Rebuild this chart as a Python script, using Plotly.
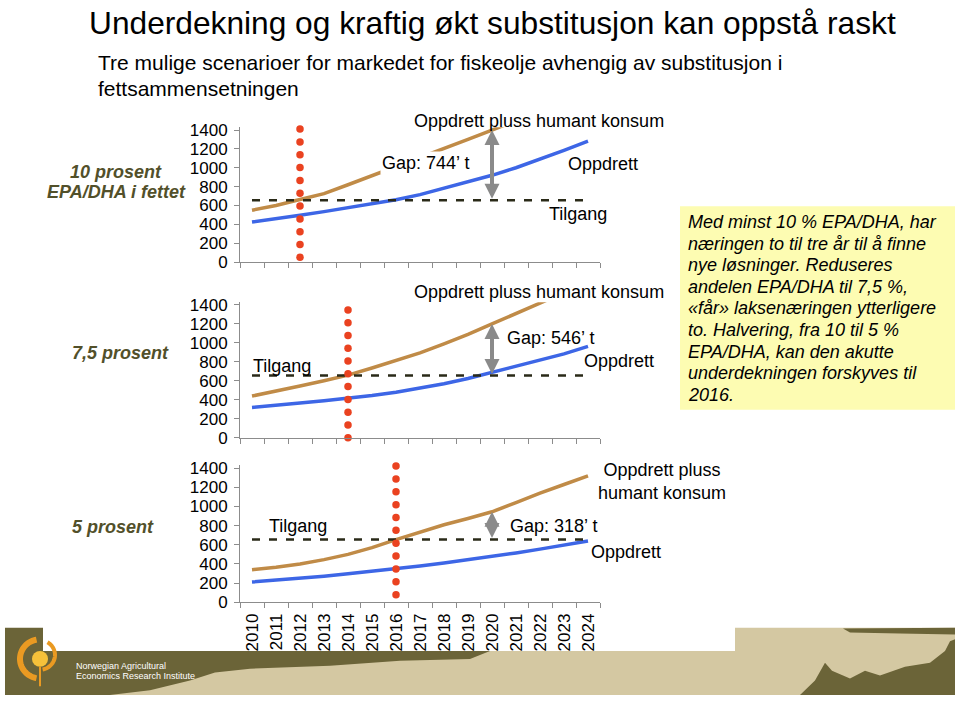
import numpy as np
import plotly.graph_objects as go

W, H = 959, 708
FONT = "Liberation Sans, Arial, sans-serif"

# ---------------- data ----------------
years = list(range(2010, 2025))
year_labels = [str(y) for y in years]
y_ticks = [0, 200, 400, 600, 800, 1000, 1200, 1400]

# 10 % EPA/DHA
oppdrett_10 = [425, 458, 497, 535, 575, 615, 660, 715, 785, 850, 920, 1000, 1090, 1185, 1282]
konsum_10 = [550, 600, 664, 725, 820, 915, 1010, 1105, 1200, 1300, 1400, 1500, 1600, 1700, 1800]
tilgang_10 = 656
cutoff_10 = 2012

# 7,5 %
oppdrett_75 = [320, 340, 365, 390, 415, 445, 480, 523, 570, 625, 690, 750, 815, 885, 964]
konsum_75 = [440, 490, 545, 600, 660, 735, 810, 894, 990, 1090, 1200, 1310, 1420, 1530, 1640]
tilgang_75 = 656
cutoff_75 = 2014

# 5 %
oppdrett_5 = [211, 230, 250, 272, 297, 322, 347, 378, 410, 443, 478, 515, 555, 597, 640]
konsum_5 = [340, 365, 400, 445, 500, 570, 654, 730, 810, 875, 945, 1040, 1140, 1230, 1321]
tilgang_5 = 656
cutoff_5 = 2016

gap_year = 2020
gap_labels = ["Gap: 744’ t", "Gap: 546’ t", "Gap: 318’ t"]
row_labels = [["10 prosent", "EPA/DHA i fettet"], ["7,5 prosent"], ["5 prosent"]]

title = "Underdekning og kraftig økt substitusjon kan oppstå raskt"
subtitle = ["Tre mulige scenarioer for markedet for fiskeolje avhengig av substitusjon i",
            "fettsammensetningen"]
box_lines = ["Med minst 10 % EPA/DHA, har",
             "næringen to til tre år til å finne",
             "nye løsninger. Reduseres",
             "andelen EPA/DHA til 7,5 %,",
             "«får» laksenæringen ytterligere",
             "to. Halvering, fra 10 til 5 %",
             "EPA/DHA, kan den akutte",
             "underdekningen forskyves til",
             "2016."]

# ---------------- styling ----------------
BROWN = "#c08b47"
BLUE = "#3d66e6"
RED = "#ea4220"
GRAY = "#8a8a8a"
AXIS = "#8c8c8c"
OLIVE_TXT = "#52502a"
OLIVE = "#6b6438"
BEIGE = "#d4c8a2"


def px(x):
    return x / W


def py(y):
    return 1 - y / H


panels = [
    dict(opp=oppdrett_10, kon=konsum_10, til=tilgang_10, cut=cutoff_10, top=124, bottom=262,
         dots=(1410, 50)),
    dict(opp=oppdrett_75, kon=konsum_75, til=tilgang_75, cut=cutoff_75, top=303, bottom=441.7,
         dots=(1348, 0)),
    dict(opp=oppdrett_5, kon=konsum_5, til=tilgang_5, cut=cutoff_5, top=470, bottom=610,
         dots=(1423, 79)),
]

xrange_ = [years[0] - 0.5, years[-1] + 0.5]
boundaries = [y - 0.5 for y in years] + [years[-1] + 0.5]

fig = go.Figure()
annotations = []
layout_axes = {}

for i, p in enumerate(panels):
    sfx = "" if i == 0 else str(i + 1)
    xa, ya = "x" + sfx, "y" + sfx
    fig.add_trace(go.Scatter(x=years, y=p["kon"], mode="lines", xaxis=xa, yaxis=ya,
                             line=dict(color=BROWN, width=3.5), showlegend=False, hoverinfo="skip"))
    fig.add_trace(go.Scatter(x=years, y=p["opp"], mode="lines", xaxis=xa, yaxis=ya,
                             line=dict(color=BLUE, width=3.5), showlegend=False, hoverinfo="skip"))
    fig.add_trace(go.Scatter(x=years, y=[p["til"]] * len(years), mode="lines", xaxis=xa, yaxis=ya,
                             line=dict(color="#2a2a18", width=2.5, dash="8px,9px"),
                             showlegend=False, hoverinfo="skip"))
    dy = np.linspace(p["dots"][0], p["dots"][1], 11)
    fig.add_trace(go.Scatter(x=[p["cut"]] * len(dy), y=dy, mode="markers", xaxis=xa, yaxis=ya,
                             marker=dict(color=RED, size=7.5), cliponaxis=False,
                             showlegend=False, hoverinfo="skip"))

    gi = years.index(gap_year)
    annotations.append(dict(x=gap_year, y=p["kon"][gi], ax=gap_year, ay=p["til"],
                            xref=xa, yref=ya, axref=xa, ayref=ya, text="", showarrow=True,
                            arrowhead=2, startarrowhead=2, arrowside="end+start",
                            arrowwidth=4, arrowsize=0.75, startarrowsize=0.75,
                            arrowcolor=GRAY, standoff=0, startstandoff=0))

    key = "" if i == 0 else str(i + 1)
    layout_axes["xaxis" + key] = dict(
        domain=[px(240), px(600)], anchor=ya, range=xrange_,
        tickmode="array", tickvals=boundaries, ticktext=[""] * len(boundaries),
        showticklabels=False, ticks="outside", ticklen=5, tickcolor=AXIS,
        showline=True, linecolor=AXIS, linewidth=1, showgrid=False, zeroline=False,
    )
    layout_axes["yaxis" + key] = dict(
        domain=[py(p["bottom"]), py(p["top"])], anchor=xa, range=[0, 1430],
        tickmode="array", tickvals=y_ticks, ticks="outside", ticklen=5, tickcolor=AXIS,
        ticklabelstandoff=3,
        tickfont=dict(size=17, color="black", family=FONT),
        showline=True, linecolor=AXIS, linewidth=1, showgrid=False, zeroline=False,
    )

# overlay axis carrying the year labels of the bottom panel
layout_axes["xaxis4"] = dict(
    domain=[px(240), px(600)], anchor="y3", overlaying="x3", range=xrange_,
    tickmode="array", tickvals=years, ticktext=year_labels, ticks="",
    tickangle=-90, ticklabelstandoff=7,
    tickfont=dict(size=17, color="black", family=FONT),
    showline=False, showgrid=False, zeroline=False,
)
fig.add_trace(go.Scatter(x=[years[0]], y=[None], xaxis="x4", yaxis="y3", mode="lines",
                         showlegend=False, hoverinfo="skip"))


def txt(x, y, s, size=18, xanchor="left", color="black", bg=None, italic=False, bold=False, align="left"):
    d = dict(x=px(x), y=py(y), xref="paper", yref="paper", text=s, showarrow=False,
             xanchor=xanchor, yanchor="middle", align=align,
             font=dict(size=size, color=color, family=FONT,
                       style="italic" if italic else "normal",
                       weight="bold" if bold else "normal"))
    if bg:
        d["bgcolor"] = bg
    annotations.append(d)


# chart texts
txt(539, 118, "Oppdrett pluss humant konsum", xanchor="center")
txt(380, 161, gap_labels[0], bg="white")
txt(566, 162, "Oppdrett")
txt(547, 213, "Tilgang")

txt(539, 293, "Oppdrett pluss humant konsum", xanchor="center")
txt(505, 340, gap_labels[1])
txt(582, 363, "Oppdrett")
txt(251, 368, "Tilgang")

txt(662, 486, "Oppdrett pluss<br>humant konsum", xanchor="center", align="center")
txt(508, 532, gap_labels[2])
txt(589, 559, "Oppdrett")
txt(267, 532, "Tilgang")

# row labels
txt(116, 170, row_labels[0][0], xanchor="center", color=OLIVE_TXT, italic=True, bold=True)
txt(116, 190, row_labels[0][1], xanchor="center", color=OLIVE_TXT, italic=True, bold=True)
txt(120, 355, row_labels[1][0], xanchor="center", color=OLIVE_TXT, italic=True, bold=True)
txt(113, 533, row_labels[2][0], xanchor="center", color=OLIVE_TXT, italic=True, bold=True)

# title / subtitle
txt(492, 17, title, size=31.7, xanchor="center")
txt(96, 58, subtitle[0], size=21)
txt(96, 84, subtitle[1], size=21)

# text box
for k, line in enumerate(box_lines):
    txt(686, 221 + k * 22.1, line, size=18, italic=True)

# footer small text
txt(74, 675, "Norwegian Agricultural", size=9, color="white")
txt(74, 686, "Economics Research Institute", size=9, color="white")


# ---------------- shapes ----------------
def poly(points, color):
    d = "M " + " L ".join(f"{px(x):.5f},{py(y):.5f}" for x, y in points) + " Z"
    return dict(type="path", path=d, xref="paper", yref="paper", fillcolor=color,
                line=dict(width=0), layer="below")


def rect(x0, y0, x1, y1, color):
    return dict(type="rect", xref="paper", yref="paper", x0=px(x0), x1=px(x1),
                y0=py(y1), y1=py(y0), fillcolor=color, line=dict(width=0), layer="below")


def arc(cx, cy, r, a0, a1, color, width):
    t = np.linspace(np.radians(a0), np.radians(a1), 40)
    pts = [(cx + r * np.cos(a), cy - r * np.sin(a)) for a in t]
    d = "M " + " L ".join(f"{px(x):.5f},{py(y):.5f}" for x, y in pts)
    return dict(type="path", path=d, xref="paper", yref="paper",
                line=dict(color=color, width=width), layer="below")


shapes = [
    rect(680, 205, 955, 413, "#fdfcb2"),
    rect(735, 636, 955, 705, BEIGE),
    rect(5, 660, 735, 705, BEIGE),
    poly([(5, 636), (43, 636), (43, 660), (490, 660), (470, 668), (400, 670), (330, 675),
          (250, 678), (215, 682), (190, 690), (150, 700), (110, 705), (5, 705)], OLIVE),
    poly([(843, 637), (955, 636), (955, 643), (900, 642), (850, 641)], OLIVE),
    poly([(800, 705), (815, 690), (825, 672), (832, 680), (850, 688), (865, 680), (880, 685),
          (905, 676), (930, 672), (945, 660), (950, 650), (955, 648), (955, 705)], OLIVE),
    arc(40, 668, 20, 100, 260, "#ea9a22", 6),
    arc(40, 664, 15, -80, 60, "#ea9a22", 4),
    dict(type="circle", xref="paper", yref="paper", x0=px(32), x1=px(48), y0=py(676), y1=py(660),
         fillcolor="#f6c13a", line=dict(width=0), layer="below"),
    dict(type="line", xref="paper", yref="paper", x0=px(40), x1=px(40), y0=py(676), y1=py(696),
         line=dict(color="#ea9a22", width=2), layer="below"),
]

fig.update_layout(
    width=W, height=H, margin=dict(l=0, r=0, t=0, b=0),
    paper_bgcolor="white", plot_bgcolor="rgba(0,0,0,0)",
    font=dict(family=FONT, color="black"),
    annotations=annotations, shapes=shapes, showlegend=False,
    **layout_axes,
)

fig.write_html("out.html")
